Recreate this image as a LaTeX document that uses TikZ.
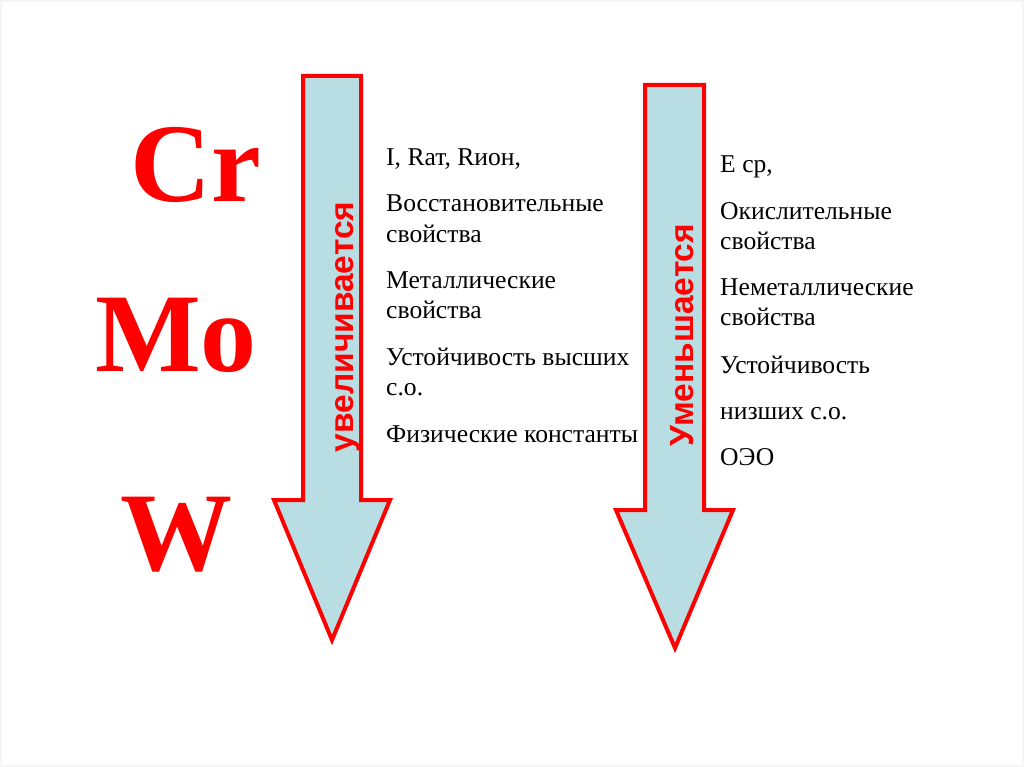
\documentclass[tikz,border=0pt]{standalone}
\usepackage{fontspec}
\setmainfont{Liberation Serif}
\newfontfamily\arialfont{Liberation Sans}
\definecolor{arrowred}{RGB}{255,0,0}
\definecolor{arrowfill}{RGB}{184,222,228}
\definecolor{elemred}{RGB}{255,0,0}
\begin{document}
\begin{tikzpicture}[x=1pt,y=-1pt,
  bigarrow/.style={draw=arrowred,fill=arrowfill,line width=4pt,line join=miter},
  elem/.style={anchor=base west,inner sep=0pt,text=elemred,font=\fontsize{112}{112}\selectfont\bfseries},
  body/.style={anchor=base west,inner sep=0pt,text=black,font=\fontsize{25.6}{30.5}\selectfont},
  vlabel/.style={anchor=base,inner sep=0pt,rotate=90,text=elemred,font=\arialfont\bfseries\fontsize{33.5}{33.5}\selectfont}]
\useasboundingbox (0,0) rectangle (1024,767);
\fill[white] (0,0) rectangle (1024,767);
\draw[black!4,line width=1.5pt] (1,1) rectangle (1023,766);
% arrows
\draw[bigarrow] (303,76) -- (361,76) -- (361,500) -- (390,500) -- (332,640) -- (274,500) -- (303,500) -- cycle;
\draw[bigarrow] (645,85) -- (704,85) -- (704,510) -- (733,510) -- (675,648) -- (616,510) -- (645,510) -- cycle;
% arrow labels
\node[vlabel] (lup) at (353,327) {увеличивается};
\node[vlabel] (ldown) at (693,335) {Уменьшается};
% elements
\node[elem] (cr) at (130,202) {Cr};
\node[elem] (mo) at (95,371) {Mo};
\node[elem] (w) at (120,570) {W};
% left column
\node[body] (a1) at (386,166) {I, Rат, Rион,};
\node[body] (a2) at (386,212) {Восстановительные};
\node[body] (a3) at (386,242) {свойства};
\node[body] (a4) at (386,288) {Металлические};
\node[body] (a5) at (386,318) {свойства};
\node[body] (a6) at (386,365) {Устойчивость высших};
\node[body] (a7) at (386,395) {с.о.};
\node[body] (a8) at (386,442) {Физические константы};
% right column
\node[body] (b1) at (720,173) {E ср,};
\node[body] (b2) at (720,219) {Окислительные};
\node[body] (b3) at (720,249) {свойства};
\node[body] (b4) at (720,295) {Неметаллические};
\node[body] (b5) at (720,325) {свойства};
\node[body] (b6) at (720,373) {Устойчивость};
\node[body] (b7) at (720,419) {низших с.о.};
\node[body] (b8) at (720,465) {ОЭО};
\end{tikzpicture}
\end{document}
